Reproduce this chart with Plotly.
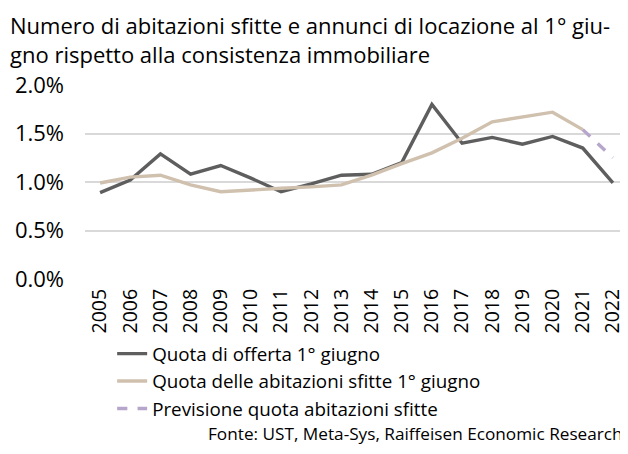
import plotly.graph_objects as go

years = [str(y) for y in range(2005, 2023)]
offerta = [0.89, 1.02, 1.29, 1.08, 1.17, 1.04, 0.90, 0.98, 1.07, 1.08, 1.20, 1.80,
           1.40, 1.46, 1.39, 1.47, 1.35, 0.99]
sfitte = [0.99, 1.05, 1.07, 0.97, 0.90, 0.92, 0.935, 0.95, 0.97, 1.07, 1.19, 1.30,
          1.45, 1.62, 1.67, 1.72, 1.54, None]
prev_years = ["2021", "2022"]
previsione = [1.54, 1.25]
y_ticks = [0, 0.5, 1.0, 1.5, 2.0]
y_ticklabels = ["0.0%", "0.5%", "1.0%", "1.5%", "2.0%"]

FONT = "Open Sans"

fig = go.Figure()
fig.add_trace(go.Scatter(x=years, y=offerta, mode="lines", name="Quota di offerta 1° giugno",
                         line=dict(color="#5e5e5e", width=3.4)))
fig.add_trace(go.Scatter(x=years, y=sfitte, mode="lines", name="Quota delle abitazioni sfitte 1° giugno",
                         line=dict(color="#d0c0ae", width=3.4)))
fig.add_trace(go.Scatter(x=prev_years, y=previsione, mode="lines", name="Previsione quota abitazioni sfitte",
                         line=dict(color="#b6a6cb", width=3.4, dash="dash")))

fig.update_layout(
    width=620, height=446,
    margin=dict(l=77, r=0, t=77, b=175),
    paper_bgcolor="white", plot_bgcolor="white",
    font=dict(family=FONT, color="#000000"),
    showlegend=True,
    legend=dict(x=0.05, xanchor="left", y=-0.288, yanchor="top",
                font=dict(size=18.8, family=FONT), itemwidth=30,
                tracegroupgap=0, bgcolor="rgba(0,0,0,0)"),
    xaxis=dict(type="category", range=[-0.5, 17.5], tickangle=-90,
               tickfont=dict(size=19.5, family=FONT),
               showgrid=False, zeroline=False, showline=False, ticks="",
               ticklabelstandoff=5),
    yaxis=dict(range=[0, 2.0], tickvals=y_ticks, ticktext=y_ticklabels,
               tickfont=dict(size=22, family=FONT), showgrid=True,
               gridcolor="#d9d9d9", gridwidth=1.5, zeroline=False, showline=False,
               ticks="", ticklabelstandoff=20),
    annotations=[
        dict(text="Numero di abitazioni sfitte e annunci di locazione al 1° giu-<br>gno rispetto alla consistenza immobiliare",
             xref="paper", yref="paper", x=-77/543, y=271/194, xanchor="left", yanchor="top",
             align="left", showarrow=False, font=dict(size=22, family=FONT)),
        dict(text="Fonte: UST, Meta-Sys, Raiffeisen Economic Research",
             xref="paper", yref="paper", x=0.9945, y=-0.728, xanchor="right", yanchor="top",
             showarrow=False, font=dict(size=17.2, family=FONT)),
    ],
)

fig.write_html("out.html")
